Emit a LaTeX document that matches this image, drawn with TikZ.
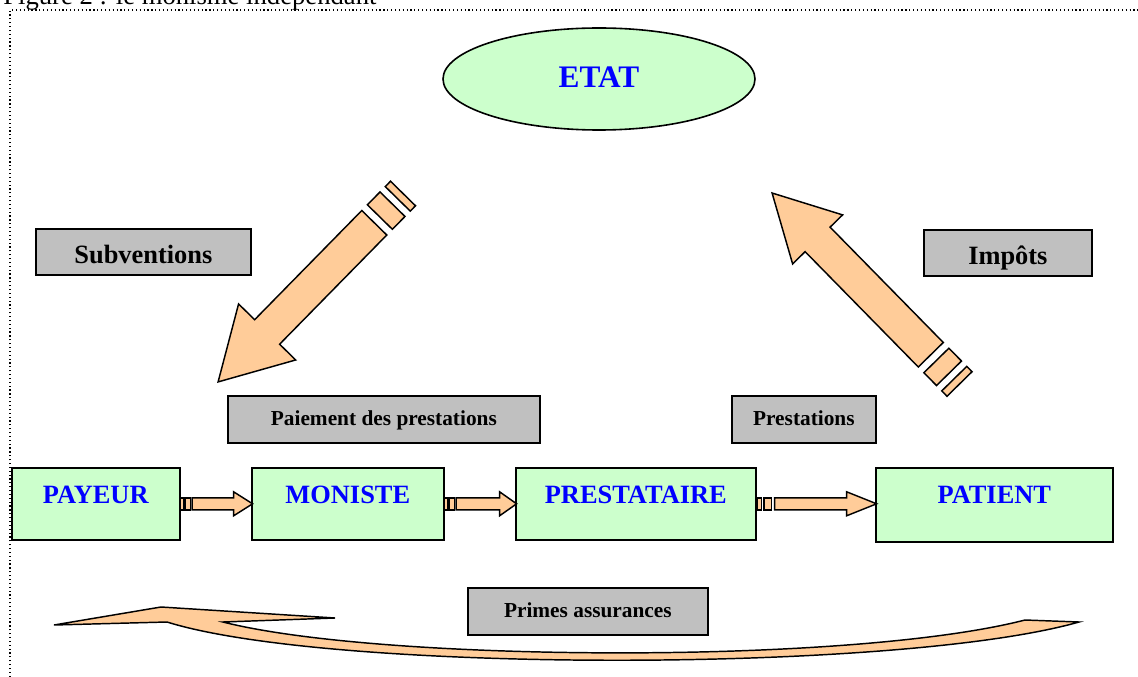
\documentclass[tikz,border=0pt]{standalone}
\usepackage{fontspec}
\setmainfont{Liberation Serif}
\usetikzlibrary{shapes.geometric}
\definecolor{boxgreen}{HTML}{CCFFCC}
\definecolor{boxgray}{HTML}{C0C0C0}
\definecolor{arroworange}{HTML}{FFCC99}
\definecolor{labelblue}{HTML}{0000FF}
\newcommand{\myharrow}[8]{%
  \begin{scope}[shift={(#1)}]
    \draw[blockarrow] (#2,-6) rectangle (#3,6);
    \draw[blockarrow] (#4,-6) rectangle (#5,6);
    \draw[blockarrow] (#6,-6) -- (#8,-6) -- (#8,-12) -- (#7,0) -- (#8,12) -- (#8,6) -- (#6,6) -- cycle;
  \end{scope}}
\newcommand{\mydarrow}[5]{%
  \begin{scope}[shift={(#1)}, rotate=#2]
    \draw[blockarrow] (0,-17.5) rectangle (7.5,17.5);
    \draw[blockarrow] (15,-17.5) rectangle (33,17.5);
    \draw[blockarrow] (41,-17.5) -- ({#3-#4},-17.5) -- ({#3-#4},-#5) -- (#3,0) -- ({#3-#4},#5) -- ({#3-#4},17.5) -- (41,17.5) -- cycle;
  \end{scope}}
\begin{document}
\begin{tikzpicture}[x=0.75pt,y=-0.75pt,
  greenbox/.style={draw=black, line width=1.2pt, fill=boxgreen, inner sep=0pt, anchor=north west,
    font=\fontsize{19.8pt}{22pt}\selectfont\bfseries, text=labelblue},
  graybig/.style={draw=black, line width=1.3pt, fill=boxgray, inner sep=0pt, anchor=north west,
    font=\fontsize{19.8pt}{22pt}\selectfont\bfseries},
  graysmall/.style={draw=black, line width=1.3pt, fill=boxgray, inner sep=0pt, anchor=north west,
    font=\fontsize{16pt}{19pt}\selectfont\bfseries},
  blockarrow/.style={draw=black, line width=1.1pt, fill=arroworange, line join=miter}]
\useasboundingbox (0,0) rectangle (1138,677);
\clip (0,0) rectangle (1138,677);

% clipped caption at the top
\node[anchor=base west, inner sep=0pt, font=\fontsize{20pt}{24pt}\selectfont] (title) at (3,5) {Figure 2 : le monisme indépendant};

% dotted frame
\draw[dotted, line width=0.9pt] (10,700) -- (10,10) -- (1160,10);

% state
\node[ellipse, draw=black, line width=1.2pt, fill=boxgreen, minimum width=234pt, minimum height=76.5pt,
  inner sep=0pt, text height=20pt, text depth=7pt, text=labelblue,
  font=\fontsize{23.5pt}{26pt}\selectfont\bfseries] (etat) at (599,79) {ETAT};

% gray labels
\node[graybig, minimum width=161.25pt, text height=26.25pt, text depth=8.25pt] (subv) at (35,228) {Subventions};
\node[graybig, minimum width=126pt, text height=26.25pt, text depth=8.25pt] (impots) at (923,229) {Impôts};
\node[graysmall, minimum width=234pt, text height=22.5pt, text depth=12.75pt] (paiement) at (227,395) {Paiement des prestations};
\node[graysmall, minimum width=108pt, text height=22.5pt, text depth=12.75pt] (prest) at (731,395) {Prestations};
\node[graysmall, minimum width=180pt, text height=22.5pt, text depth=12.75pt] (primes) at (467,587) {Primes assurances};

% green actors
\node[greenbox, minimum width=126pt, text height=27pt, text depth=27pt] (payeur) at (11,467) {PAYEUR};
\node[greenbox, minimum width=144pt, text height=27pt, text depth=27pt] (moniste) at (251,467) {MONISTE};
\node[greenbox, minimum width=180pt, text height=27pt, text depth=27pt] (prestataire) at (515,467) {PRESTATAIRE};
\node[greenbox, minimum width=177.75pt, text height=27pt, text depth=28.5pt] (patient) at (875,467) {PATIENT};

% small striped arrows
\myharrow{payeur.east}{0}{3}{4.5}{10}{11.5}{72}{53}
\myharrow{moniste.east}{0}{3}{4.5}{10}{11.5}{72}{55}
\myharrow{prestataire.east}{1}{5}{7.5}{15}{18}{120}{90}

% big striped arrows
\coordinate (subtail) at (403,193.5);
\coordinate (imptail) at (959.5,384);
\mydarrow{subtail}{-134.46}{264}{70}{40}
\mydarrow{imptail}{134.46}{267.6}{65}{35}

% curved return arrow
\draw[blockarrow] (54,625) -- (161,607) -- (335,618) -- (223,622)
  .. controls (380,662) and (850,665) .. (1025,620) -- (1079,622)
  .. controls (900,673) and (330,673) .. (167,622) -- cycle;
\end{tikzpicture}
\end{document}
